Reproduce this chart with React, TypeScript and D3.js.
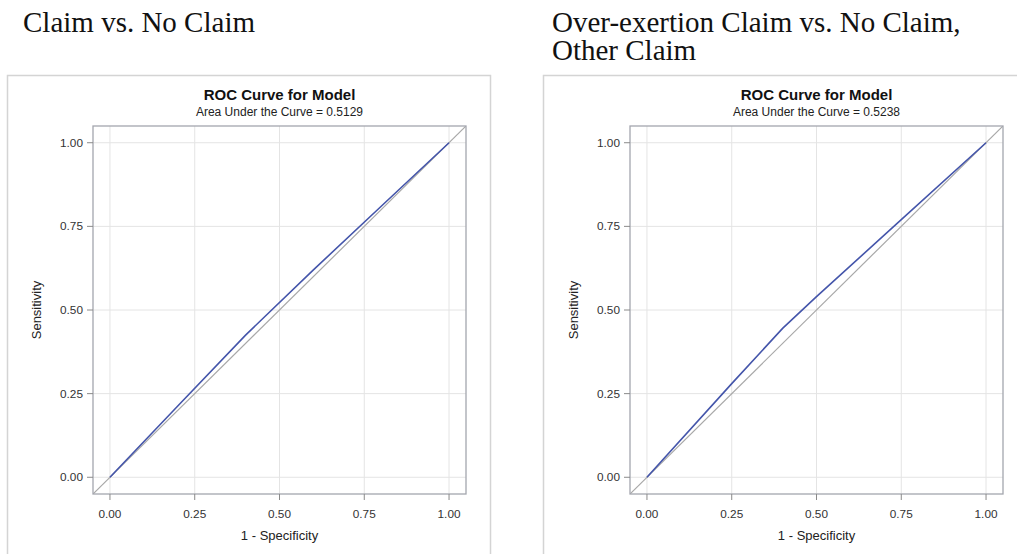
import React from "react";
import * as d3 from "d3";

const ticks = [0, 0.25, 0.5, 0.75, 1];
const tickLabels = ["0.00", "0.25", "0.50", "0.75", "1.00"];

const leftFpr = [0, 0.2, 0.4, 0.6, 0.8, 1];
const leftTpr = [0, 0.213, 0.425, 0.62, 0.81, 1];
const rightFpr = [0, 0.25, 0.4, 0.5, 0.75, 1];
const rightTpr = [0, 0.28, 0.445, 0.54, 0.77, 1];

const panels = [
  {
    heading: ["Claim vs. No Claim"],
    headingX: 23,
    auc: "0.5129",
    box: [7, 75, 490, 560],
    frameLeft: 93,
    frameRight: 466,
    fpr: leftFpr,
    tpr: leftTpr,
  },
  {
    heading: ["Over-exertion Claim vs. No Claim,", "Other Claim"],
    headingX: 552,
    auc: "0.5238",
    box: [543, 75, 1030, 560],
    frameLeft: 630,
    frameRight: 1003,
    fpr: rightFpr,
    tpr: rightTpr,
  },
];

const FRAME_TOP = 126;
const FRAME_BOTTOM = 494;
const SANS = "'Liberation Sans', Arial, sans-serif";

function Panel({ p }: { p: (typeof panels)[number] }) {
  const x = d3.scaleLinear().domain([-0.05, 1.05]).range([p.frameLeft, p.frameRight]);
  const y = d3.scaleLinear().domain([-0.05, 1.05]).range([FRAME_BOTTOM, FRAME_TOP]);
  const pts: [number, number][] = p.fpr.map((f, i) => [f, p.tpr[i]]);
  const line = d3
    .line<[number, number]>()
    .x((d) => x(d[0]))
    .y((d) => y(d[1]));
  const cx = (p.frameLeft + p.frameRight) / 2;
  const cy = (FRAME_TOP + FRAME_BOTTOM) / 2;
  return (
    <g>
      <text
        x={p.headingX}
        y={32}
        fontFamily="'Liberation Serif', 'Times New Roman', serif"
        fontSize={29}
        fill="#111"
      >
        {p.heading.map((h, i) => (
          <tspan key={i} x={p.headingX} dy={i === 0 ? 0 : 28}>
            {h}
          </tspan>
        ))}
      </text>
      <rect
        x={p.box[0] + 0.5}
        y={p.box[1] + 0.5}
        width={p.box[2] - p.box[0]}
        height={p.box[3] - p.box[1]}
        fill="#fff"
        stroke="#d4d4d4"
        strokeWidth={1.5}
      />
      <text x={cx} y={100} textAnchor="middle" fontFamily={SANS} fontSize={15} fontWeight="bold" fill="#111">
        ROC Curve for Model
      </text>
      <text x={cx} y={115.5} textAnchor="middle" fontFamily={SANS} fontSize={12} fill="#222">
        {`Area Under the Curve = ${p.auc}`}
      </text>
      <defs>
        <clipPath id={`clip-${p.frameLeft}`}>
          <rect x={p.frameLeft} y={FRAME_TOP} width={p.frameRight - p.frameLeft} height={FRAME_BOTTOM - FRAME_TOP} />
        </clipPath>
      </defs>
      {ticks.map((t) => (
        <g key={`g${t}`}>
          <line x1={x(t)} x2={x(t)} y1={FRAME_TOP} y2={FRAME_BOTTOM} stroke="#e4e4e4" strokeWidth={1} />
          <line x1={p.frameLeft} x2={p.frameRight} y1={y(t)} y2={y(t)} stroke="#e4e4e4" strokeWidth={1} />
        </g>
      ))}
      <g clipPath={`url(#clip-${p.frameLeft})`}>
        <line x1={x(-0.05)} y1={y(-0.05)} x2={x(1.05)} y2={y(1.05)} stroke="#a8a8a8" strokeWidth={1.2} />
        <path d={line(pts) || ""} fill="none" stroke="#4455aa" strokeWidth={1.6} />
      </g>
      <rect
        x={p.frameLeft}
        y={FRAME_TOP}
        width={p.frameRight - p.frameLeft}
        height={FRAME_BOTTOM - FRAME_TOP}
        fill="none"
        stroke="#a4a6ae"
        strokeWidth={1.3}
      />
      {ticks.map((t, i) => (
        <g key={`t${t}`}>
          <line x1={p.frameLeft - 6} x2={p.frameLeft} y1={y(t)} y2={y(t)} stroke="#8a8a8a" />
          <text x={p.frameLeft - 10} y={y(t) + 4} textAnchor="end" fontFamily={SANS} fontSize={11.8} fill="#333">
            {tickLabels[i]}
          </text>
          <line x1={x(t)} x2={x(t)} y1={FRAME_BOTTOM} y2={FRAME_BOTTOM + 6} stroke="#8a8a8a" />
          <text x={x(t)} y={FRAME_BOTTOM + 24} textAnchor="middle" fontFamily={SANS} fontSize={11.8} fill="#333">
            {tickLabels[i]}
          </text>
        </g>
      ))}
      <text x={cx} y={FRAME_BOTTOM + 46} textAnchor="middle" fontFamily={SANS} fontSize={13} fill="#222">
        1 - Specificity
      </text>
      <text
        transform={`translate(${p.frameLeft - 52},${cy}) rotate(-90)`}
        textAnchor="middle"
        fontFamily={SANS}
        fontSize={13}
        fill="#222"
      >
        Sensitivity
      </text>
    </g>
  );
}

export default function App() {
  return (
    <div style={{ position: "absolute", left: 0, top: 0 }}>
      <svg width={1017} height={554} style={{ display: "block", background: "#fff" }}>
        {panels.map((p, i) => (
          <Panel key={i} p={p} />
        ))}
      </svg>
    </div>
  );
}
